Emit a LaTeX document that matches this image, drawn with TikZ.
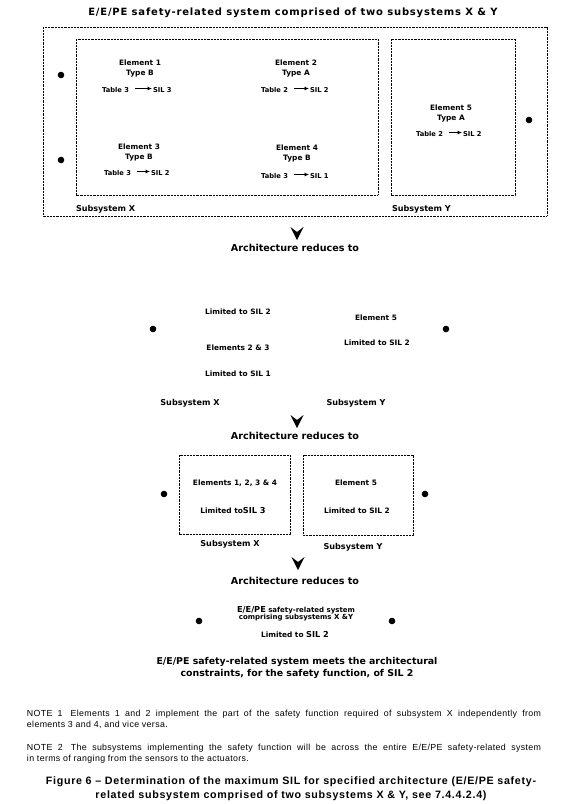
\documentclass[tikz,border=0pt]{standalone}
\usepackage{fontspec}
\setmainfont{DejaVu Sans}
\newfontfamily\ttlfont[LetterSpace=8]{DejaVu Sans Bold}
\newfontfamily\notefont[LetterSpace=4]{Liberation Sans}
\newfontfamily\capfont[LetterSpace=6.5]{Liberation Sans}
\usetikzlibrary{arrows.meta}
\newcommand\tabrow[6]{%
  \node[tr,anchor=east] (#1a) at (#2,#4) {#5};
  \node[tr,anchor=west] (#1b) at (#3,#4) {#6};
  \draw[tarrow] ([yshift=1.5pt]#1a.east) -- ([yshift=1.5pt]#1b.west);}
\begin{document}
\begin{tikzpicture}[x=1pt,y=-1pt,
  every node/.style={inner sep=0pt, outer sep=0pt},
  el/.style={font=\fontsize{7.4}{10}\selectfont\bfseries, align=center},
  tr/.style={font=\fontsize{6.7}{8}\selectfont\bfseries},
  elt/.style={font=\fontsize{7}{7.2}\selectfont\bfseries, align=center},
  sub/.style={font=\fontsize{8.1}{9}\selectfont\bfseries},
  ttl/.style={font=\fontsize{10}{11}\ttlfont},
  arch/.style={font=\fontsize{9.6}{11}\selectfont\bfseries},
  concl/.style={font=\fontsize{9.4}{12}\selectfont\bfseries, align=center},
  notes/.style={font=\fontsize{8.8}{11}\notefont, anchor=west},
  capt/.style={font=\fontsize{10.7}{14}\capfont\bfseries},
  dotbox/.style={draw, line width=0.85pt, dash pattern=on 1pt off 0.45pt},
  blob/.style={circle, fill=black, minimum size=6.6pt},
  tarrow/.style={-{Latex[length=4.5pt,width=4pt]}, line width=0.8pt, shorten <=6pt, shorten >=1pt},
  chev/.pic={\fill (-6.5,0) -- (0,5) -- (6.5,0) -- (0,13) -- cycle;}
]
\useasboundingbox (0,0) rectangle (564,804);

% ---------- stage 1 ----------
\node[ttl] (title) at (293,13) {E/E/PE safety-related system comprised of two subsystems X \& Y};
\draw[dotbox] (43,27) rectangle (547,216);
\draw[dotbox] (76,39) rectangle (378,195);
\draw[dotbox] (391,39) rectangle (515,195);
\node[blob] (d1) at (61,75) {};
\node[blob] (d2) at (61,160) {};
\node[blob] (d3) at (529,120) {};

\node[el] (e1) at (140,68) {Element 1\\Type B};
\tabrow{r1}{129}{153}{90}{Table 3}{SIL 3}
\node[el] (e2) at (296,68) {Element 2\\Type A};
\tabrow{r2}{288}{310}{90}{Table 2}{SIL 2}
\node[el] (e3) at (139,152) {Element 3\\Type B};
\tabrow{r3}{131}{151}{173}{Table 3}{SIL 2}
\node[el] (e4) at (297,153.5) {Element 4\\Type B};
\tabrow{r4}{288}{310}{176}{Table 3}{SIL 1}
\node[el] (e5) at (451,113) {Element 5\\Type A};
\tabrow{r5}{443}{463}{134}{Table 2}{SIL 2}

\node[sub,anchor=west] (sx1) at (76,209) {Subsystem X};
\node[sub,anchor=west] (sy1) at (392,209) {Subsystem Y};

\pic at (297,227) {chev};
\node[arch] (a1) at (295,248) {Architecture reduces to};

% ---------- stage 2 ----------
\node[el] (l2a) at (238,312) {Limited to SIL 2};
\node[el] (e23) at (238,348) {Elements 2 \& 3};
\node[el] (l1) at (238,374) {Limited to SIL 1};
\node[el] (e5b) at (376,318) {Element 5};
\node[el] (l2b) at (377,343) {Limited to SIL 2};
\node[blob] (d4) at (153,329) {};
\node[blob] (d5) at (446,329) {};
\node[sub] (sx2) at (190,403) {Subsystem X};
\node[sub] (sy2) at (356,403) {Subsystem Y};

\pic at (297,415) {chev};
\node[arch] (a2) at (295,436) {Architecture reduces to};

% ---------- stage 3 ----------
\draw[dotbox] (179,455) rectangle (290,534);
\draw[dotbox] (303,455) rectangle (413,535);
\node[el] (e1234) at (235,483) {Elements 1, 2, 3 \& 4};
\node[el] (l3) at (233,511) {Limited to{\fontsize{8.2}{8}\selectfont SIL 3}};
\node[el] (e5c) at (356,483) {Element 5};
\node[el] (l2c) at (357,511) {Limited to SIL 2};
\node[blob] (d6) at (164,494) {};
\node[blob] (d7) at (425,494) {};
\node[sub] (sx3) at (230,544) {Subsystem X};
\node[sub] (sy3) at (353,547) {Subsystem Y};

\pic at (298,557) {chev};
\node[arch] (a3) at (295,581) {Architecture reduces to};

% ---------- stage 4 ----------
\node[elt] (sys) at (296,614) {{\fontsize{8.2}{7}\selectfont E/E/PE} safety-related system\\comprising subsystems X \&Y};
\node[el] (l2d) at (295,635) {Limited to {\fontsize{8.2}{8}\selectfont SIL 2}};
\node[blob] (d8) at (199,621) {};
\node[blob] (d9) at (392,621) {};

\node[concl] (cc) at (297,668) {E/E/PE safety-related system meets the architectural\\constraints, for the safety function, of SIL 2};

% ---------- notes and caption ----------
\node[notes] (n1a) at (27,714) {\makebox[514pt][s]{NOTE 1\hspace{8pt}Elements 1 and 2 implement the part of the safety function required of subsystem X independently from}};
\node[notes] (n1b) at (27,725) {elements 3 and 4, and vice versa.};
\node[notes] (n2a) at (27,748) {\makebox[514pt][s]{NOTE 2\hspace{8pt}The subsystems implementing the safety function will be across the entire E/E/PE safety-related system}};
\node[notes] (n2b) at (27,759) {in terms of ranging from the sensors to the actuators.};
\node[capt] (c1) at (291,782) {Figure 6 – Determination of the maximum SIL for specified architecture (E/E/PE safety-};
\node[capt] (c2) at (291,796) {related subsystem comprised of two subsystems X \& Y, see 7.4.4.2.4)};
\end{tikzpicture}
\end{document}
